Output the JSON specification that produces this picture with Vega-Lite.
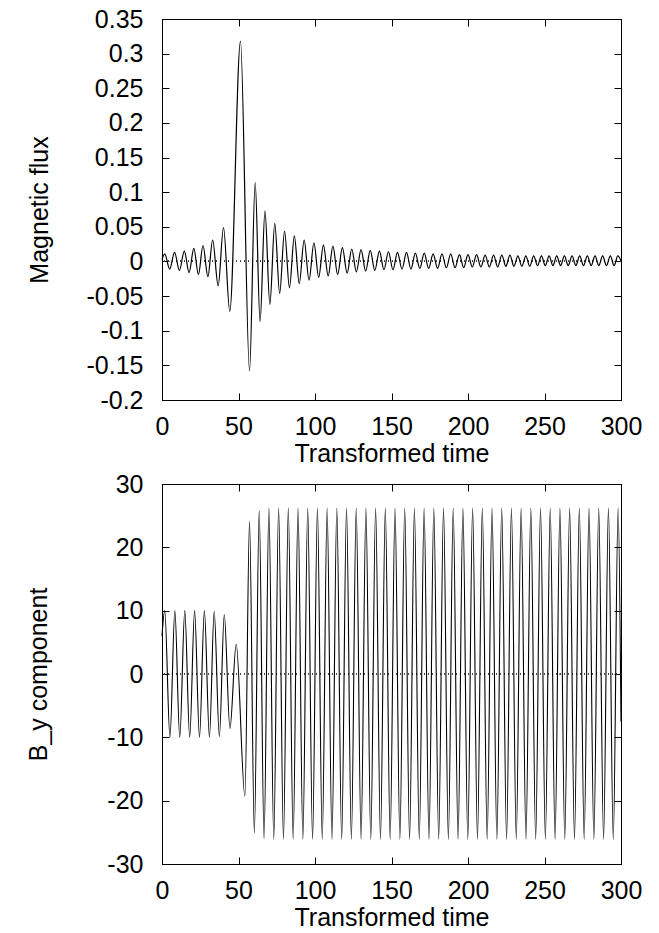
{
  "$schema": "https://vega.github.io/schema/vega-lite/v6.json",
  "background": "white",
  "padding": {"left": 25, "top": 6, "right": 30, "bottom": 0},
  "spacing": 4,
  "config": {
    "font": "Liberation Sans",
    "view": {"stroke": "black", "strokeWidth": 1},
    "axis": {
      "grid": false,
      "domainColor": "black",
      "domainWidth": 1,
      "tickColor": "black",
      "tickWidth": 1,
      "tickSize": -7,
      "labelFlush": false,
      "labelFont": "Liberation Sans",
      "titleFont": "Liberation Sans",
      "labelFontSize": 25,
      "titleFontSize": 25,
      "titleFontWeight": "normal",
      "labelColor": "black",
      "titleColor": "black"
    },
    "axisX": {"labelPadding": 21},
    "axisY": {"labelPadding": 26}
  },
  "datasets": {
    "flux": [
      {"t":0,"v":0.003},{"t":1.8,"v":0.011},{"t":5.0,"v":-0.011},{"t":8.2,"v":0.013},{"t":11.4,"v":-0.013},{"t":14.6,"v":0.015},{"t":17.7,"v":-0.016},{"t":20.8,"v":0.019},{"t":23.8,"v":-0.019},{"t":26.8,"v":0.023},{"t":30.0,"v":-0.022},{"t":33.1,"v":0.031},{"t":36.7,"v":-0.035},{"t":40.2,"v":0.049},{"t":44.3,"v":-0.072},{"t":51.3,"v":0.318},{"t":57.2,"v":-0.158},{"t":60.9,"v":0.114},{"t":64.1,"v":-0.087},{"t":67.3,"v":0.073},{"t":70.5,"v":-0.062},{"t":73.7,"v":0.055},{"t":76.9,"v":-0.046},{"t":80.1,"v":0.044},{"t":83.3,"v":-0.038},{"t":86.5,"v":0.037},{"t":89.7,"v":-0.032},{"t":92.9,"v":0.031},{"t":96.1,"v":-0.027},{"t":99.3,"v":0.027},{"t":102.4,"v":-0.023},{"t":105.5,"v":0.024},{"t":108.6,"v":-0.021},{"t":111.7,"v":0.022},{"t":114.8,"v":-0.019},{"t":117.9,"v":0.020},{"t":121.0,"v":-0.017},{"t":124.0,"v":0.018},{"t":127.05,"v":-0.015},{"t":130.1,"v":0.017},{"t":133.1,"v":-0.014},{"t":136.1,"v":0.016},{"t":139.1,"v":-0.013},{"t":142.1,"v":0.015},{"t":145.05,"v":-0.012},{"t":148.0,"v":0.014},{"t":150.95,"v":-0.012},{"t":153.9,"v":0.013},{"t":156.85,"v":-0.011},{"t":159.8,"v":0.013},{"t":162.7,"v":-0.011},{"t":165.6,"v":0.012},{"t":168.5,"v":-0.010},{"t":171.4,"v":0.012},{"t":174.3,"v":-0.010},{"t":177.2,"v":0.011},{"t":180.1,"v":-0.010},{"t":183.0,"v":0.011},{"t":185.85,"v":-0.009},{"t":188.7,"v":0.011},{"t":191.55,"v":-0.009},{"t":194.4,"v":0.010},{"t":197.2,"v":-0.009},{"t":200.0,"v":0.010},{"t":202.8,"v":-0.008},{"t":205.6,"v":0.010},{"t":208.4,"v":-0.008},{"t":211.2,"v":0.009},{"t":213.95,"v":-0.008},{"t":216.7,"v":0.009},{"t":219.4,"v":-0.008},{"t":222.1,"v":0.009},{"t":224.75,"v":-0.007},{"t":227.4,"v":0.009},{"t":230.0,"v":-0.007},{"t":232.6,"v":0.008},{"t":235.2,"v":-0.007},{"t":237.8,"v":0.008},{"t":240.35,"v":-0.007},{"t":242.9,"v":0.008},{"t":245.45,"v":-0.006},{"t":248.0,"v":0.008},{"t":250.5,"v":-0.006},{"t":253.0,"v":0.008},{"t":255.5,"v":-0.006},{"t":258.0,"v":0.008},{"t":260.5,"v":-0.006},{"t":263.0,"v":0.008},{"t":265.5,"v":-0.006},{"t":268.0,"v":0.008},{"t":270.5,"v":-0.006},{"t":273.0,"v":0.008},{"t":275.5,"v":-0.006},{"t":278.0,"v":0.008},{"t":280.5,"v":-0.006},{"t":283.0,"v":0.008},{"t":285.5,"v":-0.006},{"t":288.0,"v":0.008},{"t":290.5,"v":-0.006},{"t":293.0,"v":0.008},{"t":295.5,"v":-0.006},{"t":297.9,"v":0.008},{"t":300,"v":0.001}
    ],
    "by": [
      {"t":0,"b":6},{"t":1.8,"b":10},{"t":5.2,"b":-10},{"t":8.4,"b":10},{"t":11.6,"b":-10},{"t":14.9,"b":10},{"t":18.1,"b":-10},{"t":21.3,"b":10},{"t":24.5,"b":-10},{"t":27.7,"b":10},{"t":31.0,"b":-10},{"t":34.1,"b":9.9},{"t":37.5,"b":-9.9},{"t":40.7,"b":9.4},{"t":44.4,"b":-8.6},{"t":48.5,"b":4.7},{"t":54.2,"b":-19.3},{"t":57.2,"b":24.1},{"t":60.37,"b":-25.1},{"t":63.54,"b":25.8},{"t":66.71,"b":-26.0},
      {"t":69.88,"b":26.2},{"t":73.05,"b":-26.1},{"t":76.22,"b":26.2},{"t":79.39,"b":-26.1},{"t":82.56,"b":26.2},{"t":85.73,"b":-26.1},{"t":88.90,"b":26.2},{"t":92.07,"b":-26.1},{"t":95.24,"b":26.2},{"t":98.41,"b":-26.1},{"t":101.58,"b":26.2},{"t":104.75,"b":-26.1},{"t":107.92,"b":26.2},{"t":111.09,"b":-26.1},{"t":114.26,"b":26.2},{"t":117.43,"b":-26.1},{"t":120.60,"b":26.2},{"t":123.77,"b":-26.1},{"t":126.94,"b":26.2},{"t":130.11,"b":-26.1},{"t":133.28,"b":26.2},{"t":136.45,"b":-26.1},{"t":139.62,"b":26.2},{"t":142.79,"b":-26.1},{"t":145.96,"b":26.2},{"t":149.13,"b":-26.1},{"t":152.30,"b":26.2},{"t":155.47,"b":-26.1},{"t":158.64,"b":26.2},{"t":161.81,"b":-26.1},{"t":164.98,"b":26.2},{"t":168.15,"b":-26.1},{"t":171.32,"b":26.2},{"t":174.49,"b":-26.1},{"t":177.66,"b":26.2},{"t":180.83,"b":-26.1},{"t":184.00,"b":26.2},{"t":187.17,"b":-26.1},{"t":190.34,"b":26.2},{"t":193.51,"b":-26.1},{"t":196.68,"b":26.2},{"t":199.85,"b":-26.1},{"t":203.02,"b":26.2},{"t":206.19,"b":-26.1},{"t":209.36,"b":26.2},{"t":212.53,"b":-26.1},{"t":215.70,"b":26.2},{"t":218.87,"b":-26.1},{"t":222.04,"b":26.2},{"t":225.21,"b":-26.1},{"t":228.38,"b":26.2},{"t":231.55,"b":-26.1},{"t":234.72,"b":26.2},{"t":237.89,"b":-26.1},{"t":241.06,"b":26.2},{"t":244.23,"b":-26.1},{"t":247.40,"b":26.2},{"t":250.57,"b":-26.1},{"t":253.74,"b":26.2},{"t":256.91,"b":-26.1},{"t":260.08,"b":26.2},{"t":263.25,"b":-26.1},{"t":266.42,"b":26.2},{"t":269.59,"b":-26.1},{"t":272.76,"b":26.2},{"t":275.93,"b":-26.1},{"t":279.10,"b":26.2},{"t":282.27,"b":-26.1},{"t":285.44,"b":26.2},{"t":288.61,"b":-26.1},{"t":291.78,"b":26.2},{"t":294.95,"b":-26.1},{"t":298.12,"b":26.2},{"t":300,"b":-7.5}
    ]
  },
  "vconcat": [
    {
      "width": 459,
      "height": 381,
      "data": {"name": "flux"},
      "layer": [
        {"mark": {"type": "rule", "strokeDash": [1, 3], "color": "#444", "strokeWidth": 1}, "encoding": {"y": {"datum": 0, "type": "quantitative", "axis": null}}},
        {
          "mark": {"type": "line", "interpolate": "monotone", "color": "black", "strokeWidth": 1.2},
          "encoding": {
            "x": {"field": "t", "type": "quantitative", "scale": {"domain": [0, 300], "nice": false}, "axis": {"orient": "bottom", "title": "Transformed time", "values": [0, 50, 100, 150, 200, 250, 300], "titlePadding": 2}},
            "y": {"field": "v", "type": "quantitative", "scale": {"domain": [-0.2, 0.35], "nice": false, "zero": false}, "axis": {"orient": "left", "title": "Magnetic flux", "values": [-0.2, -0.15, -0.1, -0.05, 0, 0.05, 0.1, 0.15, 0.2, 0.25, 0.3, 0.35], "labelExpr": "'' + datum.value", "titlePadding": 33.5}}
          }
        },
        {
          "mark": {"type": "line", "opacity": 0},
          "encoding": {
            "x": {"field": "t", "type": "quantitative", "axis": {"orient": "top", "title": null, "labels": false, "values": [0, 50, 100, 150, 200, 250, 300]}},
            "y": {"field": "v", "type": "quantitative", "axis": {"orient": "right", "title": null, "labels": false, "values": [-0.2, -0.15, -0.1, -0.05, 0, 0.05, 0.1, 0.15, 0.2, 0.25, 0.3, 0.35]}}
          }
        }
      ],
      "resolve": {"axis": {"x": "independent", "y": "independent"}}
    },
    {
      "width": 459,
      "height": 380,
      "data": {"name": "by"},
      "layer": [
        {"mark": {"type": "rule", "strokeDash": [1, 3], "color": "#444", "strokeWidth": 1}, "encoding": {"y": {"datum": 0, "type": "quantitative", "axis": null}}},
        {
          "mark": {"type": "line", "interpolate": "monotone", "color": "black", "strokeWidth": 1.1},
          "encoding": {
            "x": {"field": "t", "type": "quantitative", "scale": {"domain": [0, 300], "nice": false}, "axis": {"orient": "bottom", "title": "Transformed time", "values": [0, 50, 100, 150, 200, 250, 300], "titlePadding": 2}},
            "y": {"field": "b", "type": "quantitative", "scale": {"domain": [-30, 30], "nice": false}, "axis": {"orient": "left", "title": "B_y component", "values": [-30, -20, -10, 0, 10, 20, 30], "labelExpr": "'' + datum.value", "titlePadding": 55.5}}
          }
        },
        {
          "mark": {"type": "line", "opacity": 0},
          "encoding": {
            "x": {"field": "t", "type": "quantitative", "axis": {"orient": "top", "title": null, "labels": false, "values": [0, 50, 100, 150, 200, 250, 300]}},
            "y": {"field": "b", "type": "quantitative", "axis": {"orient": "right", "title": null, "labels": false, "values": [-30, -20, -10, 0, 10, 20, 30]}}
          }
        }
      ],
      "resolve": {"axis": {"x": "independent", "y": "independent"}}
    }
  ]
}
